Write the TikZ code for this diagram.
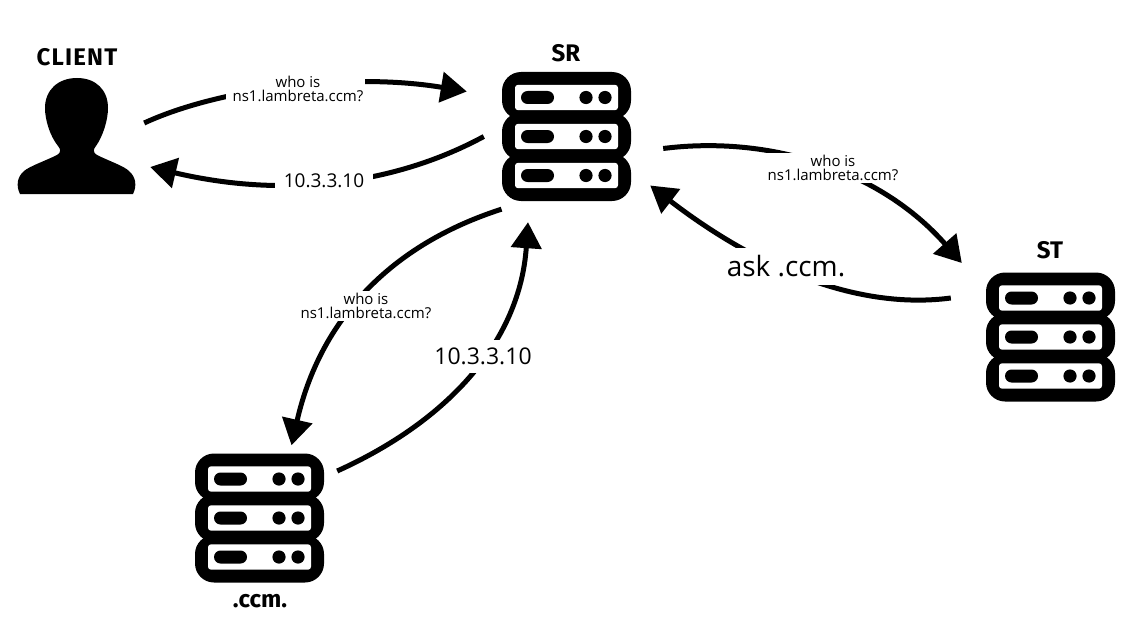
\documentclass[tikz,border=0pt]{standalone}
\usepackage{fontspec}
\setmainfont{Open Sans}
\newfontfamily\headfont{Fira Sans}[BoldFont={Fira Sans Bold}]
\usetikzlibrary{arrows.meta,calc}
\tikzset{
  x=1pt,y=-1pt,
  conn/.style={line width=5pt,-{Triangle[length=26pt,width=30pt]}},
  small/.style={fill=white,inner sep=0pt,align=center,minimum height=30pt,minimum width=139pt,font=\fontsize{15}{14}\selectfont},
  addr/.style={fill=white,inner sep=0pt,minimum height=33pt},
  head/.style={font=\headfont\bfseries\fontsize{24}{24}\selectfont,inner sep=0pt},
  srv/.style={minimum width=129pt,minimum height=129pt,inner sep=0pt},
  server/.pic={
    \fill[black,rounded corners=19pt] (-64.5,-64.5) rectangle (64.5,-17);
    \fill[black,rounded corners=19pt] (-64.5,-24) rectangle (64.5,24);
    \fill[black,rounded corners=19pt] (-64.5,17) rectangle (64.5,64.5);
    \foreach \yy in {-39,0,39}{
      \fill[white,rounded corners=3pt] (-51.5,\yy-12.7) rectangle (51.5,\yy+12.7);
      \fill[black,rounded corners=6.5pt] (-45.5,\yy-6.5) rectangle (-12.5,\yy+6.5);
      \fill[black] (19.5,\yy) circle[radius=6.6];
      \fill[black] (38.5,\yy) circle[radius=6.6];
    }
  }
}
\begin{document}
\begin{tikzpicture}
\useasboundingbox (0,0) rectangle (1134,623);
% servers
\node[srv] (sr) at (566.5,136.5) {};
\node[srv] (st) at (1050.5,337) {};
\node[srv] (ccm) at (259.5,518) {};
\pic at (sr) {server};
\pic at (st) {server};
\pic at (ccm) {server};
% client
\node[minimum width=118pt,minimum height=116pt,inner sep=0pt] (client) at (77,136) {};
\fill[black] (20,194)
  .. controls (16,186) and (17,177) .. (24,171)
  .. controls (30,166) and (45,161) .. (57,155)
  .. controls (61,153) and (61,149) .. (58,146)
  .. controls (50,136) and (45,120) .. (45,108)
  .. controls (45,90) and (58,78) .. (77,78)
  .. controls (96,78) and (108,90) .. (108,108)
  .. controls (108,120) and (103,136) .. (96,146)
  .. controls (93,149) and (93,153) .. (97,155)
  .. controls (109,161) and (124,166) .. (129,171)
  .. controls (136,177) and (137,186) .. (133,194) -- cycle;
% headings
\node[head] (lclient) at (77,57) {\addfontfeature{LetterSpace=5}CLIENT};
\node[head] (lsr) at (566,53) {SR};
\node[head] (lst) at (1050,250) {ST};
\node[head] (lccm) at (260,601) {.ccm.};
% connectors
\draw[conn] ([shift={(8,-13)}]client.east) .. controls (220,88) and (350,72) .. ([shift={(-35,-45)}]sr.west);
\draw[conn] ([shift={(-18,0)}]sr.west) .. controls (400,182) and (290,200) .. ([shift={(14,31)}]client.east);
\draw[conn] ([shift={(32,12)}]sr.east) .. controls (770,135) and (880,170) .. ([shift={(-24,-74)}]st.west);
\draw[conn] ([shift={(-35,-39)}]st.west) .. controls (860,310) and (760,270) .. ([shift={(19,49)}]sr.east);
\draw[conn] ([shift={(-65,8)}]sr.south) .. controls (390,245) and (320,320) .. ([shift={(32,-8)}]ccm.north);
\draw[conn] ([shift={(13,-47)}]ccm.east) .. controls (450,420) and (520,340) .. ([shift={(-38.5,21)}]sr.south);
% labels
\node[small] (q1) at (295,89) {\hspace*{6pt}who is\\\hspace*{6pt}ns1.lambreta.ccm?};
\node[addr,minimum width=98pt,font=\fontsize{19}{19}\selectfont] (a1) at (324,181) {10.3.3.10};
\node[small] (q2) at (833,168) {who is\\ns1.lambreta.ccm?};
\node[addr,minimum width=124pt,minimum height=37pt,font=\fontsize{28}{28}\selectfont] (a2) at (786,266.5) {ask .ccm.};
\node[small] (q3) at (366,306) {who is\\ns1.lambreta.ccm?};
\node[addr,minimum width=106pt,font=\fontsize{23}{23}\selectfont] (a3) at (483,356.5) {10.3.3.10};
\end{tikzpicture}
\end{document}
